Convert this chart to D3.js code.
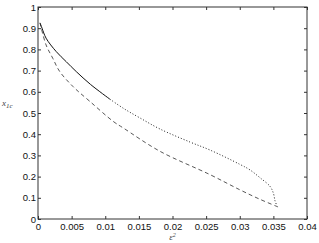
<!DOCTYPE html>
<html>
<head>
<meta charset="utf-8">
<script src="https://cdn.jsdelivr.net/npm/d3@7"></script>
<style>
  body { margin: 0; background: #fff; }
  svg { display: block; }
  .tick text { font-family: "Liberation Sans", Arial, sans-serif; font-size: 9.5px; fill: #111; }
  .tick line { stroke: #333; }
  .domain { display: none; }
</style>
</head>
<body>
<div id="chart"></div>
<script>
// x1c versus eps^2
var epsUpper = [0.0003, 0.0006, 0.0012, 0.0027, 0.0042, 0.0057, 0.0078, 0.0107,
                0.0128, 0.0152, 0.0181, 0.0226, 0.0256, 0.030, 0.0315, 0.033,
                0.0345, 0.035, 0.03525, 0.0355];
var x1cUpper = [0.925, 0.90, 0.853, 0.79, 0.742, 0.695, 0.635, 0.565,
                0.52, 0.476, 0.425, 0.363, 0.325, 0.258, 0.232, 0.195,
                0.154, 0.122, 0.085, 0.065];
var solidUntil = 0.0107;

var epsLower = [0.0003, 0.0012, 0.0022, 0.0032, 0.0052, 0.0077, 0.0112, 0.0127,
                0.0181, 0.0256, 0.030, 0.033, 0.0357];
var x1cLower = [0.925, 0.821, 0.758, 0.697, 0.625, 0.555, 0.46, 0.429,
                0.32, 0.209, 0.138, 0.093, 0.057];

var xTicks = [0, 0.005, 0.01, 0.015, 0.02, 0.025, 0.03, 0.035, 0.04];
var xTickLabels = ["0", "0.005", "0.01", "0.015", "0.02", "0.025", "0.03", "0.035", "0.04"];
var yTicks = [0, 0.1, 0.2, 0.3, 0.4, 0.5, 0.6, 0.7, 0.8, 0.9, 1];
var yTickLabels = ["0", "0.1", "0.2", "0.3", "0.4", "0.5", "0.6", "0.7", "0.8", "0.9", "1"];

var margin = {top: 7, right: 12, bottom: 24, left: 38},
    width = 319 - margin.left - margin.right,
    height = 243 - margin.top - margin.bottom;

var x = d3.scaleLinear().domain([0, 0.04]).range([0, width]);
var y = d3.scaleLinear().domain([0, 1]).range([height, 0]);

var svg = d3.select("#chart")
        .append("svg")
        .attr("width", 319)
        .attr("height", 243);

var canvas = svg.append("g")
        .attr("transform", "translate(" + margin.left + "," + margin.top + ")");

// axes, ticks pointing inwards like matlab
canvas.append("g")
        .attr("transform", "translate(0," + height + ")")
        .call(d3.axisBottom(x).tickValues(xTicks).tickSizeInner(-3).tickSizeOuter(0).tickPadding(4)
                .tickFormat(function (d, i) { return xTickLabels[i]; }));
canvas.append("g")
        .call(d3.axisLeft(y).tickValues(yTicks).tickSizeInner(-3).tickSizeOuter(0).tickPadding(2)
                .tickFormat(function (d, i) { return yTickLabels[i]; }));
canvas.append("g")
        .call(d3.axisTop(x).tickValues(xTicks).tickSizeInner(-3).tickSizeOuter(0).tickFormat(""));
canvas.append("g")
        .attr("transform", "translate(" + width + ",0)")
        .call(d3.axisRight(y).tickValues(yTicks).tickSizeInner(-3).tickSizeOuter(0).tickFormat(""));

canvas.append("rect")
        .attr("width", width)
        .attr("height", height)
        .attr("fill", "none")
        .attr("stroke", "#333")
        .attr("stroke-width", 1);

var upper = epsUpper.map(function (e, i) { return [e, x1cUpper[i]]; });
var lower = epsLower.map(function (e, i) { return [e, x1cLower[i]]; });

var line = d3.line()
        .x(function (d) { return x(d[0]); })
        .y(function (d) { return y(d[1]); })
        .curve(d3.curveCatmullRom);

canvas.append("path")
        .datum(lower)
        .attr("d", line)
        .attr("fill", "none")
        .attr("stroke", "#444")
        .attr("stroke-width", 0.9)
        .attr("stroke-dasharray", "4,3");

canvas.append("path")
        .datum(upper.filter(function (d) { return d[0] <= solidUntil; }))
        .attr("d", line)
        .attr("fill", "none")
        .attr("stroke", "#111")
        .attr("stroke-width", 1);

canvas.append("path")
        .datum(upper.filter(function (d) { return d[0] >= solidUntil; }))
        .attr("d", line)
        .attr("fill", "none")
        .attr("stroke", "#222")
        .attr("stroke-width", 1)
        .attr("stroke-dasharray", "1,2");

// axis labels
svg.append("text")
        .attr("x", 2)
        .attr("y", 106)
        .style("font-family", "'Liberation Serif', serif")
        .style("font-style", "italic")
        .style("font-size", "9px")
        .style("fill", "#444")
        .text("x")
        .append("tspan")
        .attr("dy", 2)
        .style("font-size", "7px")
        .text("1c");

svg.append("text")
        .attr("x", margin.left + width / 2)
        .attr("y", 240)
        .attr("text-anchor", "middle")
        .style("font-family", "'Liberation Serif', serif")
        .style("font-style", "italic")
        .style("font-size", "9px")
        .style("fill", "#444")
        .text("ε")
        .append("tspan")
        .attr("dy", -3)
        .style("font-size", "6px")
        .text("2");
</script>
</body>
</html>
